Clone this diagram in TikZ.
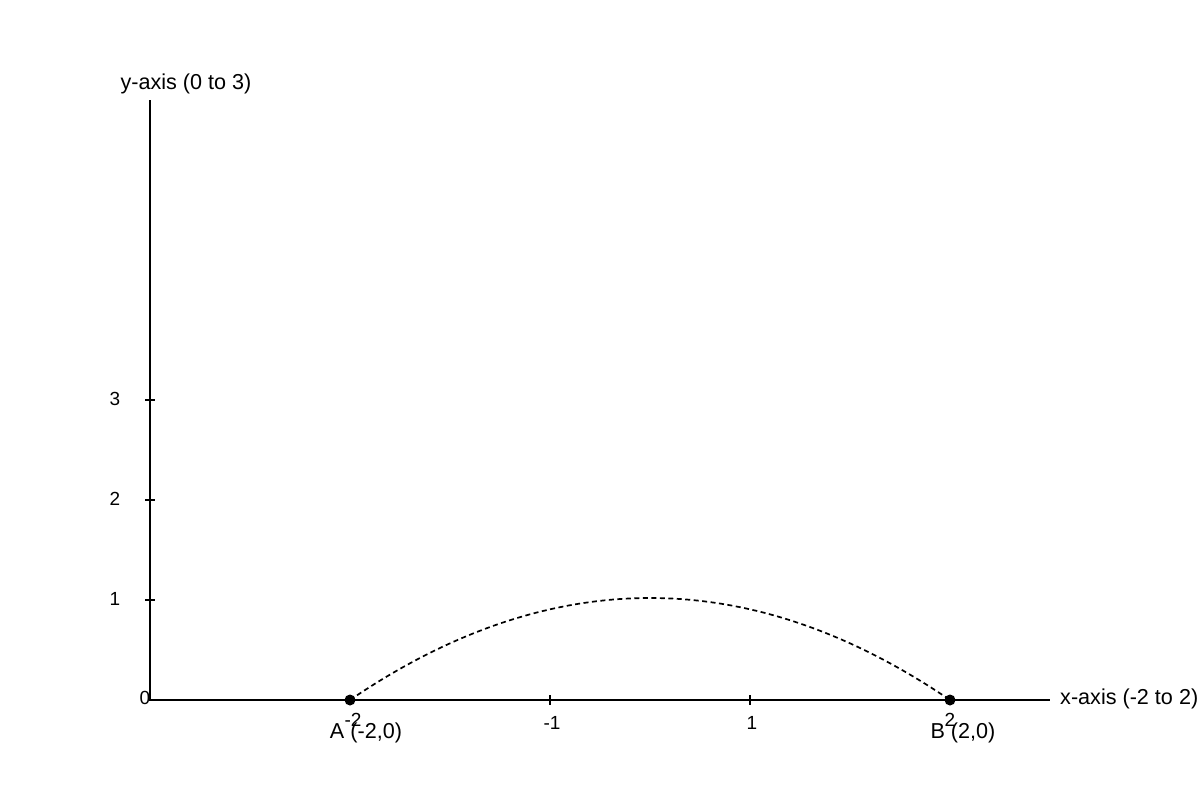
\documentclass[tikz,border=0pt]{standalone}
\usepackage{fontspec}
\setmainfont{Liberation Sans}
\begin{document}
\begin{tikzpicture}[x=1pt,y=-1pt,
  axis/.style={line width=2pt},
  tick/.style={line width=1.5pt},
  lbl/.style={font=\fontsize{21.6}{24}\selectfont, inner sep=0pt},
  ticklbl/.style={font=\fontsize{19}{21}\selectfont, inner sep=0pt},
  pt/.style={circle, fill=black, inner sep=0pt, minimum size=11pt},
  arcline/.style={dash pattern=on 5pt off 3.5pt, line width=1.7pt}]
\useasboundingbox (0,0) rectangle (1200,800);
\coordinate (O) at (150,700);
\coordinate (ytop) at (150,100);
\coordinate (xend) at (1050,700);
\draw[axis] (ytop) -- (O) -- (xend);
% y ticks
\foreach \v/\yy in {1/600,2/500,3/400}{
  \draw[tick] (145,\yy) -- (155,\yy);
  \node[ticklbl] (yl\v) at (115,\yy-1) {\v};
}
\node[ticklbl] (zero) at (145,698) {0};
% x ticks
\foreach \n/\xx/\t in {m1/550/-1,p1/750/1}{
  \draw[tick] (\xx,695) -- (\xx,705);
  \node[ticklbl] (xl\n) at (\xx+2,723) {\t};
}
\node[ticklbl] (xlm2) at (353,720) {-2};
\node[ticklbl] (xlp2) at (950,720) {2};
% points
\node[pt] (A) at (350,700) {};
\node[pt] (B) at (950,700) {};
\draw[arcline] (A.center) .. controls (550,564) and (750,564) .. (B.center);
\node[lbl] (Alab) at (366,733) {A (-2,0)};
\node[lbl] (Blab) at (963,733) {B (2,0)};
% axis labels
\node[lbl, anchor=west] (xlab) at (1060,699) {x-axis (-2 to 2)};
\node[lbl] (ylab) at (186,84) {y-axis (0 to 3)};
\end{tikzpicture}
\end{document}
